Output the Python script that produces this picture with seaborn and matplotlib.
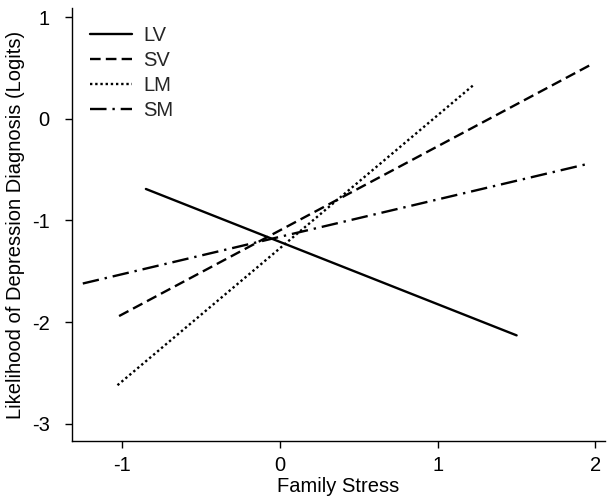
import matplotlib
matplotlib.use("Agg")
import matplotlib.pyplot as plt
import seaborn as sns
import pandas as pd

groups = ["LV", "SV", "LM", "SM"]
x_start = [-0.85, -1.02, -1.03, -1.25]
x_end = [1.50, 1.98, 1.225, 1.96]
y_start = [-0.69, -1.94, -2.62, -1.62]
y_end = [-2.13, 0.54, 0.33, -0.44]
x_ticks = [-1, 0, 1, 2]
y_ticks = [-3, -2, -1, 0, 1]

rows = []
for g, xs, xe, ys, ye in zip(groups, x_start, x_end, y_start, y_end):
    rows.append({"x": xs, "y": ys, "group": g})
    rows.append({"x": xe, "y": ye, "group": g})
df = pd.DataFrame(rows)

sns.set_style("white")
plt.rcParams["font.family"] = ["Liberation Sans", "DejaVu Sans"]

fig = plt.figure(figsize=(6.08, 4.99), dpi=100)
ax = fig.add_axes([0.118, 0.116, 0.877, 0.868])

dashes = {"LV": "", "SV": (4.5, 2.2), "LM": (1, 1.2), "SM": (7, 2.5, 1, 2.5)}
sns.lineplot(data=df, x="x", y="y", style="group", style_order=groups,
             dashes=dashes, color="black", linewidth=1.7, ax=ax,
             estimator=None, sort=False)

fs = 14.5
ax.set_xlim(-1.32, 2.06)
ax.set_ylim(-3.17, 1.09)
ax.set_xticks(x_ticks)
ax.set_yticks(y_ticks)
ax.set_xticklabels([str(v) for v in x_ticks])
ax.set_yticklabels([str(v) for v in y_ticks])
ax.tick_params(axis="both", direction="out", length=5, width=1, labelsize=fs,
               color="black", labelcolor="black", left=True, bottom=True)
ax.tick_params(axis="y", pad=11)
ax.tick_params(axis="x", pad=6)
ax.set_xlabel("Family Stress", fontsize=fs, color="black", labelpad=1)
ax.set_ylabel("Likelihood of Depression Diagnosis (Logits)", fontsize=fs,
              color="black", labelpad=5)
for s in ["top", "right"]:
    ax.spines[s].set_visible(False)
for s in ["left", "bottom"]:
    ax.spines[s].set_color("black")
    ax.spines[s].set_linewidth(1)

handles, labels = ax.get_legend_handles_labels()
leg = ax.legend(handles=handles, labels=labels, loc="upper left", frameon=False,
                fontsize=fs, handlelength=2.1, handletextpad=0.55,
                labelspacing=0.3, bbox_to_anchor=(0.0, 1.0), borderaxespad=0.5)

fig.savefig("out.png", dpi=100)
